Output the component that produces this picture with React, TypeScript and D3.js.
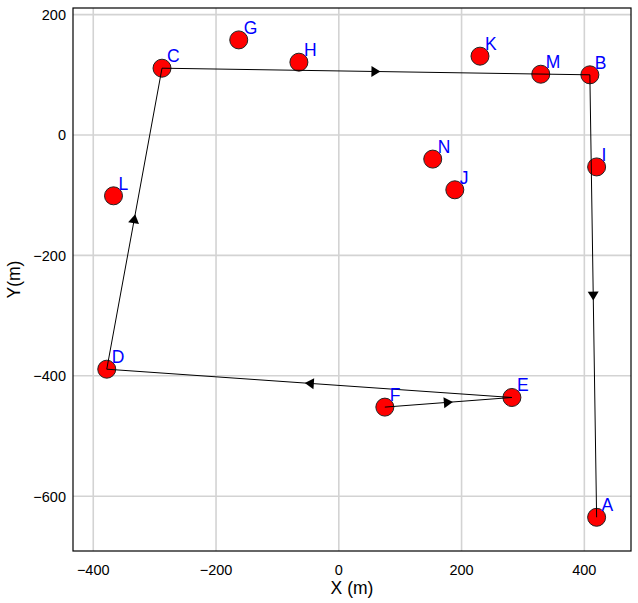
import React from "react";
import * as d3 from "d3";

const names = ["A", "B", "C", "D", "E", "F", "G", "H", "I", "J", "K", "L", "M", "N"];
const xs = [420, 409, -288, -378, 282, 75, -163, -65, 420, 189, 230, -367, 329, 153];
const ys = [-635, 100, 111, -389, -436, -452, 158, 121, -53, -91, 131, -101, 101, -40];
const route = ["F", "E", "D", "C", "B", "A"];
const xTicks = [-400, -200, 0, 200, 400];
const yTicks = [200, 0, -200, -400, -600];

const W = 638;
const H = 603;
const left = 73, right = 631, top = 8, bottom = 551;
const FONT = "'Liberation Sans', Arial, sans-serif";

export default function App() {
  if (typeof document !== "undefined") document.body.style.margin = "0";
  const x = d3.scaleLinear().domain([-433, 476]).range([left, right]);
  const y = d3.scaleLinear().domain([-691, 211]).range([bottom, top]);
  const fmt = (v: number) => (v < 0 ? "\u2212" + Math.abs(v) : String(v));
  const pts = names.map((n, i) => ({ n, px: x(xs[i]), py: y(ys[i]) }));
  const byName: Record<string, { px: number; py: number }> = {};
  pts.forEach((p) => (byName[p.n] = p));
  const routePts = route.map((n) => byName[n]);
  const line = d3.line<{ px: number; py: number }>().x((d) => d.px).y((d) => d.py);

  const arrows = d3.pairs(routePts).map(([a, b], i) => {
    const mx = (a.px + b.px) / 2, my = (a.py + b.py) / 2;
    const ang = (Math.atan2(b.py - a.py, b.px - a.px) * 180) / Math.PI;
    return (
      <path key={i} d="M4.5,0 L-4.5,-5.5 L-4.5,5.5 Z" fill="black"
        transform={`translate(${mx},${my}) rotate(${ang})`} />
    );
  });

  return (
    <svg width={W} height={H} style={{ position: "absolute", left: 0, top: 0, background: "white" }}>
      <rect x={0} y={0} width={W} height={H} fill="white" />
      {xTicks.map((t) => (
        <line key={"gx" + t} x1={x(t)} x2={x(t)} y1={top} y2={bottom} stroke="#d3d3d3" strokeWidth={1.6} />
      ))}
      {yTicks.map((t) => (
        <line key={"gy" + t} y1={y(t)} y2={y(t)} x1={left} x2={right} stroke="#d3d3d3" strokeWidth={1.6} />
      ))}
      {pts.map((p) => (
        <circle key={"c" + p.n} cx={p.px} cy={p.py} r={9} fill="#ff0000" stroke="#222" strokeWidth={1} />
      ))}
      <path d={line(routePts) || ""} fill="none" stroke="black" strokeWidth={1} />
      {arrows}
      {pts.map((p) => (
        <text key={"t" + p.n} x={p.px + 5} y={p.py - 6} fill="#0000ff" fontSize={17.5} fontFamily={FONT}>
          {p.n}
        </text>
      ))}
      <rect x={left} y={top} width={right - left} height={bottom - top} fill="none" stroke="black" strokeWidth={1.2} />
      {xTicks.map((t) => (
        <text key={"xl" + t} x={x(t)} y={575} textAnchor="middle" fontSize={14.5} fontFamily={FONT}>
          {fmt(t)}
        </text>
      ))}
      {yTicks.map((t) => (
        <text key={"yl" + t} x={66} y={y(t) + 5.3} textAnchor="end" fontSize={14.5} fontFamily={FONT}>
          {fmt(t)}
        </text>
      ))}
      <text x={(left + right) / 2} y={594} textAnchor="middle" fontSize={17.5} fontFamily={FONT}>
        X (m)
      </text>
      <text transform={`translate(20,${(top + bottom) / 2}) rotate(-90)`} textAnchor="middle" fontSize={17.5} fontFamily={FONT}>
        Y(m)
      </text>
    </svg>
  );
}
